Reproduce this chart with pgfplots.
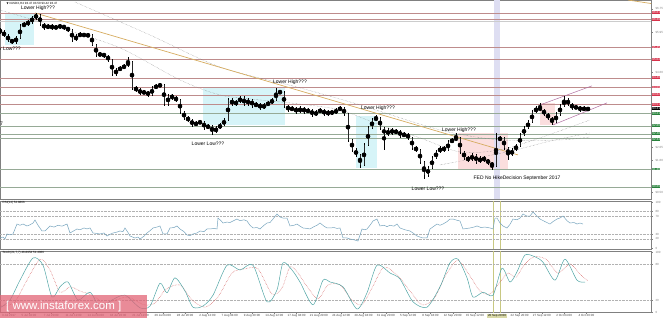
\documentclass[border=0pt]{standalone}
\usepackage{pgfplots}
\pgfplotsset{compat=1.18}
\usepackage{pgfplotstable}
\usepackage{fontspec}
\setmainfont{Liberation Sans}
\newfontfamily\symfont{DejaVu Sans}

\definecolor{axisgray}{RGB}{128,128,128}
\definecolor{upline}{RGB}{190,140,140}
\definecolor{lowline}{RGB}{150,170,150}
\definecolor{lblred}{RGB}{215,50,75}
\definecolor{lblgreen}{RGB}{40,130,60}
\definecolor{boxcyan}{RGB}{214,244,248}
\definecolor{boxpink}{RGB}{251,222,222}
\definecolor{band}{RGB}{222,222,242}
\definecolor{trend}{RGB}{214,172,96}
\definecolor{chan}{RGB}{176,110,160}
\definecolor{rsiline}{RGB}{120,165,190}
\definecolor{stmain}{RGB}{80,165,165}
\definecolor{stsig}{RGB}{210,90,90}
\definecolor{fedline}{RGB}{200,200,130}
\definecolor{wmark}{RGB}{226,100,118}

\newcommand{\tinyf}{\fontsize{3}{3.5}\selectfont}
\newcommand{\notef}{\fontsize{5}{6}\selectfont}

% H4 candles, one every 4 px of the reference: x o h l c
\pgfplotstableread{
x o h l c
0 96.03 96.10 95.89 95.96
4 95.96 96.02 95.78 95.83
8 95.83 95.88 95.63 95.69
12 95.69 95.74 95.55 95.62
16 95.62 95.82 95.57 95.76
20 95.76 96.22 95.72 96.17
24 96.17 96.30 96.12 96.23
28 96.23 96.36 96.18 96.30
32 96.30 96.50 96.25 96.44
36 96.44 96.61 96.38 96.54
40 96.54 96.58 96.18 96.23
44 96.23 96.28 96.03 96.10
48 96.10 96.24 96.05 96.17
52 96.17 96.22 96.04 96.10
56 96.10 96.19 96.05 96.13
60 96.13 96.23 96.08 96.17
64 96.17 96.21 96.04 96.10
68 96.10 96.14 95.97 96.03
72 96.03 96.07 95.63 95.69
76 95.69 95.88 95.64 95.83
80 95.83 95.95 95.78 95.89
84 95.89 95.94 95.78 95.83
88 95.83 95.92 95.79 95.86
92 95.86 95.90 95.47 95.52
96 95.52 95.55 95.12 95.18
100 95.18 95.27 95.13 95.21
104 95.21 95.26 95.09 95.15
108 95.15 95.19 94.95 95.01
112 95.01 95.05 94.47 94.53
116 94.53 94.73 94.48 94.67
120 94.67 94.80 94.62 94.74
124 94.74 94.87 94.69 94.81
128 94.81 95.11 94.76 94.94
132 94.94 94.98 94.00 94.06
136 94.06 94.11 93.93 93.99
140 93.99 94.04 93.83 93.89
144 93.89 93.98 93.84 93.92
148 93.92 93.97 93.76 93.82
152 93.82 94.12 93.77 94.06
156 94.06 94.19 94.01 94.13
160 94.13 94.22 94.08 94.16
164 94.16 94.20 93.45 93.51
168 93.51 93.85 93.46 93.79
172 93.79 93.84 93.66 93.72
176 93.72 93.77 93.59 93.65
180 93.65 93.69 93.18 93.24
184 93.24 93.28 92.98 93.04
188 93.04 93.09 92.91 92.97
192 92.97 93.01 92.74 92.80
196 92.80 92.93 92.75 92.87
200 92.87 92.96 92.83 92.90
204 92.90 92.94 92.64 92.70
208 92.70 92.83 92.65 92.77
212 92.77 92.81 92.46 92.56
216 92.56 92.76 92.51 92.70
220 92.70 92.86 92.65 92.80
224 92.80 93.03 92.75 92.97
228 92.97 93.71 92.92 93.65
232 93.65 93.70 93.45 93.51
236 93.51 93.64 93.46 93.58
240 93.58 93.78 93.53 93.72
244 93.72 93.77 93.45 93.51
248 93.51 93.71 93.46 93.65
252 93.65 93.69 93.39 93.45
256 93.45 93.57 93.40 93.51
260 93.51 93.55 93.32 93.38
264 93.38 93.54 93.33 93.48
268 93.48 93.61 93.43 93.55
272 93.55 93.71 93.50 93.65
276 93.65 94.06 93.60 93.92
280 93.92 94.00 93.84 93.90
284 93.90 93.94 93.39 93.45
288 93.45 93.49 93.25 93.31
292 93.31 93.44 93.26 93.38
296 93.38 93.42 93.18 93.24
300 93.24 93.44 93.19 93.38
304 93.38 93.42 93.18 93.24
308 93.24 93.37 93.19 93.31
312 93.31 93.35 93.08 93.14
316 93.14 93.30 93.09 93.24
320 93.24 93.37 93.19 93.31
324 93.31 93.35 93.11 93.17
328 93.17 93.30 93.12 93.24
332 93.24 93.29 93.15 93.21
336 93.21 93.37 93.16 93.31
340 93.31 93.44 93.26 93.38
344 93.38 93.42 93.11 93.17
348 93.17 93.21 92.23 92.29
352 92.29 92.33 91.89 91.95
356 91.95 92.00 91.72 91.78
360 91.78 91.82 91.34 91.44
364 91.44 92.18 91.39 92.12
368 92.12 92.76 92.07 92.70
372 92.70 93.03 92.65 92.97
376 92.97 93.14 92.92 93.04
380 93.04 93.08 92.64 92.70
384 92.70 92.74 91.95 92.46
388 92.46 92.69 92.41 92.63
392 92.63 92.68 92.47 92.53
396 92.53 92.66 92.48 92.60
400 92.60 92.64 92.37 92.43
404 92.43 92.55 92.38 92.49
408 92.49 92.53 92.30 92.36
412 92.36 92.40 91.96 92.02
416 92.02 92.07 91.89 91.95
420 91.95 91.99 91.48 91.54
424 91.54 91.58 90.96 91.10
428 91.10 91.40 91.04 91.34
432 91.34 91.74 91.29 91.68
436 91.68 91.94 91.63 91.88
440 91.88 92.08 91.83 92.02
444 92.02 92.07 91.89 91.95
448 91.95 92.28 91.90 92.22
452 92.22 92.35 92.17 92.29
456 92.29 92.53 92.24 92.36
460 92.36 92.40 91.82 91.88
464 91.88 91.93 91.62 91.68
468 91.68 91.73 91.55 91.61
472 91.61 91.84 91.56 91.78
476 91.78 91.82 91.48 91.54
480 91.54 91.74 91.49 91.68
484 91.68 91.73 91.55 91.61
488 91.61 91.65 91.45 91.51
492 91.51 91.55 91.27 91.41
496 91.41 92.53 91.36 92.29
500 92.29 92.42 92.24 92.36
504 92.36 92.40 91.96 92.02
508 92.02 92.06 91.61 91.78
512 91.78 92.01 91.73 91.95
516 91.95 92.15 91.90 92.09
520 92.09 92.52 92.04 92.46
524 92.46 92.76 92.41 92.70
528 92.70 92.96 92.65 92.90
532 92.90 93.30 92.85 93.24
536 93.24 93.44 93.19 93.38
540 93.38 93.55 93.26 93.31
544 93.31 93.35 93.11 93.17
548 93.17 93.21 92.98 93.04
552 93.04 93.08 92.80 92.90
556 92.90 93.23 92.85 93.17
560 93.17 93.51 93.12 93.45
564 93.45 93.78 93.40 93.65
568 93.65 93.70 93.45 93.51
572 93.51 93.55 93.32 93.38
576 93.38 93.47 93.33 93.41
580 93.41 93.45 93.25 93.31
584 93.31 93.44 93.26 93.38
588 93.38 93.42 93.26 93.31
}\candles

\pgfplotsset{
  panel/.style={
    scale only axis, width=651pt, xmin=0, xmax=651, clip=false,
    axis line style={draw=axisgray, line width=0.7pt},
    ytick pos=right, yticklabel pos=right,
    tick align=outside, major tick length=1.5pt,
    tick style={draw=axisgray, line width=0.4pt},
    y tick label style={font=\tinyf, text=axisgray, xshift=-0.5pt},
    /pgf/number format/assume math mode=true,
  },
  hline/.style={line width=0.5pt, forget plot},
}
\tikzset{lbl/.style={anchor=west, font=\tinyf, text=white, inner sep=0.4pt, xshift=0.8pt}}

\begin{document}
\begin{tikzpicture}[x=1pt,y=1pt]

% ---------------- price panel ----------------
\begin{axis}[panel, at={(0pt,0pt)}, anchor=north west, height=199pt,
  ymin=90.28, ymax=97.05, xtick=\empty,
  ytick={96.75,95.95,94.60,92.05,91.60,90.50},
  yticklabel style={/pgf/number format/fixed, /pgf/number format/precision=2,
    /pgf/number format/fixed zerofill}]

% shaded zones
\addplot[fill=boxcyan, draw=none, forget plot] coordinates {(5,96.61) (34,96.61) (34,95.52) (5,95.52)} -- cycle;
\addplot[fill=boxcyan, draw=none, forget plot] coordinates {(203,94.06) (285,94.06) (285,92.80) (203,92.80)} -- cycle;
\addplot[fill=boxcyan, draw=none, forget plot] coordinates {(356,93.10) (377,93.10) (377,91.34) (356,91.34)} -- cycle;
\addplot[fill=boxpink, draw=none, forget plot] coordinates {(458,92.53) (508,92.53) (508,91.27) (458,91.27)} -- cycle;
\addplot[fill=boxpink, draw=none, forget plot] coordinates {(540,93.55) (555,93.55) (555,92.80) (540,92.80)} -- cycle;
\addplot[fill=band, draw=none, forget plot] coordinates {(494,90.28) (500,90.28) (500,97.05) (494,97.05)} -- cycle;

% horizontal levels with their price boxes
\addplot[hline, upline] coordinates {(0,96.61) (651,96.61)} node[pos=1, lbl, fill=lblred] {96.61};
\addplot[hline, upline] coordinates {(0,96.39) (651,96.39)} node[pos=1, lbl, fill=lblred] {96.39};
\addplot[hline, black!20] coordinates {(0,96.33) (651,96.33)};
\addplot[hline, upline] coordinates {(0,95.45) (651,95.45)} node[pos=1, lbl, fill=lblred] {95.45};
\addplot[hline, upline] coordinates {(0,95.04) (651,95.04)} node[pos=1, lbl, fill=lblred] {95.04};
\addplot[hline, upline] coordinates {(0,94.40) (651,94.40)} node[pos=1, lbl, fill=lblred] {94.40};
\addplot[hline, upline] coordinates {(0,94.09) (651,94.09)} node[pos=1, lbl, fill=lblred] {94.09};
\addplot[hline, upline] coordinates {(0,93.82) (651,93.82)} node[pos=1, lbl, fill=lblred] {93.82};
\addplot[hline, upline] coordinates {(0,93.51) (651,93.51)} node[pos=1, lbl, fill=lblred] {93.51};
\addplot[hline, draw=none] coordinates {(0,93.35) (651,93.35)} node[pos=1, lbl, fill=black] {93.31};
\addplot[hline, lowline] coordinates {(0,93.19) (651,93.19)} node[pos=1, lbl, fill=lblgreen] {93.21};
\addplot[hline, lowline] coordinates {(0,92.77) (651,92.77)} node[pos=1, lbl, fill=lblgreen] {92.80};
\addplot[hline, lowline] coordinates {(0,92.47) (651,92.47)} node[pos=1, lbl, fill=lblgreen, yshift=0.8pt] {92.48};
\addplot[hline, lowline] coordinates {(0,92.33) (651,92.33)} node[pos=1, lbl, fill=lblgreen, yshift=-0.8pt] {92.34};
\addplot[hline, lowline] coordinates {(0,91.30) (651,91.30)} node[pos=1, lbl, fill=lblgreen] {91.30};
\addplot[hline, lowline] coordinates {(0,90.69) (651,90.69)} node[pos=1, lbl, fill=lblgreen] {90.69};

% moving averages
\addplot[gray, densely dotted, line width=0.4pt, forget plot, smooth] coordinates {
(0,96.71) (60,96.10) (120,95.42) (180,94.33) (220,93.82) (260,93.65) (300,93.51)
(340,93.31) (380,92.80) (420,92.36) (460,91.88) (500,91.95) (540,92.36) (590,92.97)};
\addplot[gray, densely dotted, line width=0.4pt, forget plot, smooth] coordinates {
(75,96.98) (150,95.86) (220,94.77) (300,94.06) (360,93.48) (440,92.63) (500,92.29)
(560,92.29) (590,92.39)};
\addplot[gray, densely dotted, line width=0.4pt, forget plot, smooth] coordinates {
(440,91.44) (507,91.88) (550,92.25) (590,92.53)};

% trend lines
\addplot[trend, line width=0.7pt, forget plot] coordinates {(35,96.61) (518,91.78)};
\addplot[trend, line width=0.7pt, forget plot] coordinates {(628,97.05) (651,96.93)};
\addplot[chan, line width=0.5pt, forget plot] coordinates {(540,93.48) (592,94.13)};
\addplot[chan, line width=0.5pt, forget plot] coordinates {(553,92.80) (607,93.55)};

% candles: wicks then bodies
\addplot[only marks, mark=none, forget plot,
  error bars/.cd, y dir=both, y explicit, error mark=none,
  error bar style={draw=black, line width=0.35pt}]
  table[x=x, y expr={(\thisrow{h}+\thisrow{l})/2}, y error expr={(\thisrow{h}-\thisrow{l})/2}] {\candles};
\addplot[only marks, mark=none, forget plot,
  error bars/.cd, y dir=both, y explicit, error mark=none,
  error bar style={draw=black!85, line width=1.0pt, line cap=butt}]
  table[x=x, y expr={(\thisrow{o}+\thisrow{c})/2}, y error expr={abs(\thisrow{o}-\thisrow{c})/2}] {\candles};

% annotations
\node[font=\tinyf, anchor=west] at (axis cs:3,96.94) {{\symfont\fontsize{2.6}{3}\selectfont ▼} \#USDX,H4 93.47 93.50 93.42 93.47};
\node[font=\notef] at (axis cs:38,96.78) {Lower High???};
\node[font=\notef, anchor=west, inner sep=0pt] at (axis cs:0,95.38) {r Low???};
\node[font=\notef, anchor=west, inner sep=0pt] at (axis cs:0,92.85) {7};
\node[font=\notef] at (axis cs:290,94.26) {Lower High???};
\node[font=\notef] at (axis cs:378,93.38) {Lower High???};
\node[font=\notef] at (axis cs:208,92.15) {Lower Low???};
\node[font=\notef] at (axis cs:459,92.63) {Lower High???};
\node[font=\notef] at (axis cs:517,91.00) {FED No HikeDecision September 2017};
\node[font=\notef] at (axis cs:428,90.62) {Lower Low???};
\end{axis}

% ---------------- RSI panel ----------------
\begin{axis}[panel, at={(0pt,-201pt)}, anchor=north west, height=48pt,
  ymin=-2.2, ymax=103.3, xtick=\empty, ytick={0,20,30,70,80,100}]
\addplot[fedline, line width=0.5pt, forget plot] coordinates {(493,-2.2) (493,103.3)};
\addplot[fedline, line width=0.5pt, forget plot] coordinates {(500,-2.2) (500,103.3)};
\foreach \lv in {20,30,70,80}{
  \addplot[black!30, densely dotted, line width=0.4pt, forget plot] coordinates {(0,\lv) (651,\lv)};
}
\addplot[rsiline, line width=0.5pt] coordinates {
(0,22) (3,24) (5,19.8) (7,30.8) (10,29) (13,30.8) (17,52.7) (20,50) (23,52.7) (27,48.4)
(30,51) (33,54.9) (35,61.5) (38,50) (42,37.4) (45,37.4) (48,44) (50,48.4) (54,46) (58,50)
(62,48) (67,52.7) (70,33) (74,38) (77,41.8) (80,40) (84,44) (87,42) (90,44) (93,33)
(97,32) (100,30.8) (104,33) (107,26.4) (110,30) (113,33) (117,35) (120,37.4) (123,36)
(125,44) (128,34) (130,26.4) (135,22) (138,24) (140,19.8) (144,26) (147,33) (150,38)
(153,44) (157,46) (160,48.4) (163,30.8) (167,30.8) (170,44) (174,45) (177,48.4) (180,41.8)
(184,36) (187,28.6) (190,27) (193,30.8) (197,33) (200,37.4) (204,36) (207,41.8) (210,41.8)
(214,43) (217,41.8) (218,65.9) (221,60) (223,54.9) (227,57) (230,56) (233,59.3) (237,63.7)
(240,60) (244,62) (247,59.3) (250,50) (253,44) (257,45) (260,41.8) (264,50) (267,54.9)
(270,56) (273,63.7) (277,74.7) (280,68) (283,65.9) (287,65.9) (290,48.4) (294,50)
(297,52.7) (300,48) (303,44) (307,43) (310,41.8) (314,47) (317,50) (320,54.9) (324,48)
(327,44) (330,44) (334,45) (337,43) (340,44) (343,22) (347,22) (350,19.8) (354,18)
(358,15.4) (362,41.8) (365,40) (367,41.8) (370,50) (373,59.3) (377,63.7) (380,48.4)
(384,50) (387,47) (390,50) (394,48) (397,52.7) (400,44) (405,40) (410,37.4) (413,33)
(417,26.4) (420,24) (423,22) (427,22) (430,41.8) (434,48) (437,52.7) (440,50) (443,52.7)
(447,58) (450,63.7) (453,63.7) (457,61) (460,59.3) (463,41.8) (467,43) (470,44) (474,46)
(477,48.4) (481,45) (485,46) (490,44) (493,41.8) (495,65.9) (497,65.9) (500,55) (503,48.4)
(507,44) (510,52) (513,63.7) (517,62) (520,65.9) (523,74.7) (527,70) (530,70.3) (533,79.1)
(537,70) (540,63.7) (545,58) (550,52.7) (553,58) (557,63.7) (560,66) (563,70.3) (567,60)
(570,54.9) (574,56) (577,52.7) (580,54.9) (583,52.7)};
\node[font=\tinyf, anchor=north west, inner sep=0.5pt] at (axis cs:2,103.3) {RSI(14) 52.8866};
\end{axis}

% ---------------- Stochastic panel ----------------
\begin{axis}[panel, at={(0pt,-251pt)}, anchor=north west, height=61.6pt,
  ymin=-1, ymax=101.67, ytick={0,20,80,100},
  xtick={9,29.0,51.3,73.6,95.9,118.2,140.5,162.8,185.1,207.4,229.7,252.0,274.3,296.6,318.9,
    341.2,363.5,385.8,408.1,430.4,452.7,475.0,519.6,541.9,564.2,586.5},
  xticklabels={3 Jul 2017,5 Jul 04:00,7 Jul 20:00,11 Jul 12:00,14 Jul 04:00,18 Jul 20:00,
    21 Jul 12:00,26 Jul 04:00,28 Jul 20:00,2 Aug 12:00,7 Aug 04:00,9 Aug 20:00,14 Aug 12:00,
    17 Aug 04:00,21 Aug 20:00,24 Aug 12:00,29 Aug 04:00,31 Aug 20:00,5 Sep 12:00,8 Sep 04:00,
    12 Sep 20:00,15 Sep 12:00,22 Sep 20:00,27 Sep 12:00,2 Oct 04:00,4 Oct 20:00},
  xtick pos=bottom,
  x tick label style={font=\tinyf, text=black!75, inner sep=0.5pt, yshift=0.5pt}]
\addplot[fedline, line width=0.5pt, forget plot] coordinates {(493,-1) (493,101.67)};
\addplot[fedline, line width=0.5pt, forget plot] coordinates {(500,-1) (500,101.67)};
\foreach \lv in {20,80}{
  \addplot[black!30, densely dotted, line width=0.4pt, forget plot] coordinates {(0,\lv) (651,\lv)};
}
\addplot[stsig, densely dotted, line width=0.5pt, smooth, tension=0.45] coordinates {
(0,10) (14,15) (26,50) (40,88) (50,70) (60,33) (70,42) (80,35) (92,28) (104,15) (116,20)
(128,25) (144,12) (155,15) (166,38) (180,45) (192,20) (205,8) (218,25) (232,65) (245,72)
(258,72) (272,30) (282,40) (290,75) (298,65) (306,45) (318,22) (328,45) (340,45) (352,20)
(362,12) (372,40) (384,75) (398,60) (410,35) (422,12) (434,22) (446,62) (458,86) (470,60)
(480,35) (490,30) (500,50) (508,65) (516,58) (524,78) (534,92) (546,88) (558,65) (570,80)
(580,63) (588,52)};
\addplot[stmain, line width=0.5pt, smooth, tension=0.45] coordinates {
(0,7) (10,20) (20,53) (33,90) (43,78) (52,25) (60,42) (68,50) (78,20) (90,33) (100,8)
(112,20) (125,28) (140,7) (150,10) (160,48) (167,32) (175,57) (185,35) (193,8) (203,10)
(213,28) (227,78) (240,70) (253,78) (267,17) (277,37) (283,82) (292,70) (300,50) (313,12)
(323,53) (330,50) (343,42) (357,5) (367,32) (377,78) (390,65) (400,55) (413,17) (427,8)
(440,42) (450,82) (458,88) (467,57) (473,25) (483,33) (493,28) (502,73) (510,50) (517,67)
(525,95) (535,92) (543,83) (555,53) (565,88) (577,53) (585,50)};
\node[font=\tinyf, anchor=north west, inner sep=0.5pt] at (axis cs:2,101.67) {Stoch(21,7,7) 46.8954 51.4066};
\node[font=\tinyf, fill=fedline!70, inner sep=0.6pt, anchor=north, yshift=-1.2pt] at (axis cs:497,-1) {20 Sep 20:00};
\end{axis}

% watermark
\fill[wmark, opacity=0.75] (0,-295) rectangle (147,-318);
\node[text=white, font=\fontsize{11.5}{12}\selectfont, anchor=west, inner sep=0pt] at (6,-306.5) {[ www.instaforex.com ]};

\pgfresetboundingbox
\useasboundingbox (0,0) rectangle (665,-321);
\end{tikzpicture}
\end{document}
